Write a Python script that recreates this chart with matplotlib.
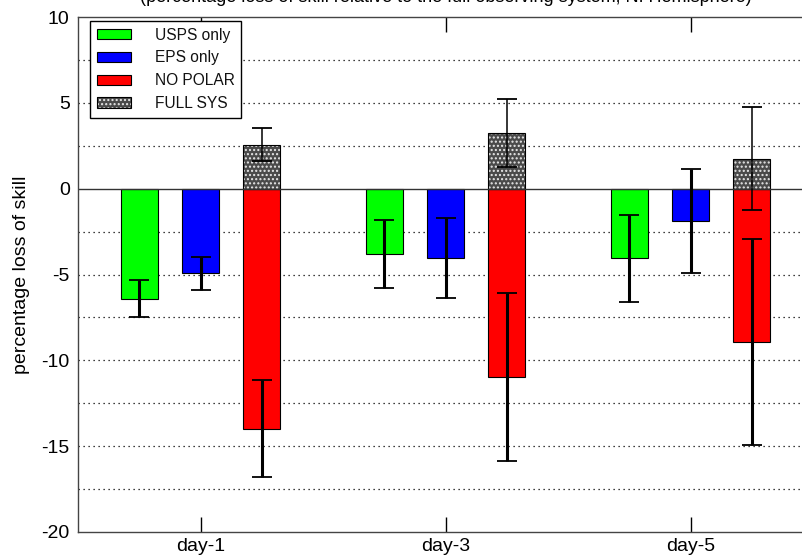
import matplotlib
matplotlib.use("Agg")
import matplotlib.pyplot as plt
from matplotlib.patches import Patch
import numpy as np

# ---- data ----
days = ["day-1", "day-3", "day-5"]
series_names = ["USPS only", "EPS only", "NO POLAR", "FULL SYS"]
usps = [-6.4, -3.8, -4.05]
usps_err = [1.08, 2.0, 2.53]
eps = [-4.93, -4.06, -1.88]
eps_err = [0.97, 2.33, 3.01]
nopolar = [-13.98, -10.95, -8.94]
nopolar_err = [2.83, 4.89, 6.02]
fullsys = [2.56, 3.24, 1.75]
fullsys_err = [0.97, 1.99, 3.01]
yticks = [-20, -15, -10, -5, 0, 5, 10]
title_text = "(percentage loss of skill relative to the full observing system, N. Hemisphere)"

plt.rcParams['font.family'] = ['Liberation Sans', 'DejaVu Sans']
plt.rcParams['axes.unicode_minus'] = False

W, H = 802, 560
fig = plt.figure(figsize=(W / 100, H / 100), dpi=100)
ax = fig.add_axes([78 / W, 1 - 532 / H, 735 / W, 515 / H])

x = np.arange(1, len(days) + 1)
bw = 0.15
off = 0.25

# grid lines every 2.5
for g in np.arange(-17.5, 10, 2.5):
    if abs(g) > 1e-9:
        ax.axhline(g, color='k', lw=0.9, ls=(0, (1, 3)), zorder=0.5)

ax.bar(x - off, usps, bw, color='#00ff00', edgecolor='k', lw=0.8, zorder=2)
ax.bar(x, eps, bw, color='#0000ff', edgecolor='k', lw=0.8, zorder=2)
ax.bar(x + off, nopolar, bw, color='#ff0000', edgecolor='k', lw=0.8, zorder=2)
ax.bar(x + off, fullsys, bw, color='#4a4a4a', edgecolor='#e8e8e8', lw=0, hatch='....', zorder=2)
ax.bar(x + off, fullsys, bw, fill=False, edgecolor='k', lw=0.8, zorder=2.1)

ax.axhline(0, color='#333333', lw=1.0, zorder=2.5)

ekw = dict(fmt='none', ecolor='k', capsize=7.5, capthick=1.3, zorder=3)
ax.errorbar(x - off, usps, yerr=usps_err, elinewidth=2.2, **ekw)
ax.errorbar(x, eps, yerr=eps_err, elinewidth=2.2, **ekw)
ax.errorbar(x + off, nopolar, yerr=nopolar_err, elinewidth=2.2, **ekw)
ax.errorbar(x + off, fullsys, yerr=fullsys_err, elinewidth=1.1, **ekw)

ax.set_xlim(0.5, 3.5)
ax.set_ylim(-20, 10)
ax.set_xticks(x)
ax.set_xticklabels(days)
ax.set_yticks(yticks)
ax.tick_params(axis='x', direction='in', length=11, width=1, top=True, labelsize=14, pad=4)
ax.tick_params(axis='y', length=0, labelsize=14, pad=6)
for s in ax.spines.values():
    s.set_color('#444444')
    s.set_linewidth(1.0)

ax.set_ylabel("percentage loss of skill", fontsize=14, labelpad=8)

h_green = Patch(facecolor='#00ff00', edgecolor='k', lw=0.8)
h_blue = Patch(facecolor='#0000ff', edgecolor='k', lw=0.8)
h_red = Patch(facecolor='#ff0000', edgecolor='k', lw=0.8)
h_gray = (Patch(facecolor='#4a4a4a', edgecolor='#e8e8e8', lw=0, hatch='....'),
          Patch(fill=False, edgecolor='k', lw=0.8))
leg = ax.legend([h_green, h_blue, h_red, h_gray], series_names,
                loc='upper left', bbox_to_anchor=(90 / W, 1 - 20.7 / H),
                bbox_transform=fig.transFigure, borderaxespad=0,
                fontsize=11.2, handlelength=2.2, handleheight=0.65,
                handletextpad=1.5, labelspacing=0.5, borderpad=0.45,
                fancybox=False, framealpha=1, edgecolor='k')
leg.get_frame().set_linewidth(1.0)
for t in leg.get_texts():
    t.set_color('#111111')

# title: only its lower edge is visible at the top of the reference image
fig.text(445.5 / W, 1 - 2 / H, title_text, ha='center', va='baseline', fontsize=13)

fig.savefig("out.png", dpi=100)
